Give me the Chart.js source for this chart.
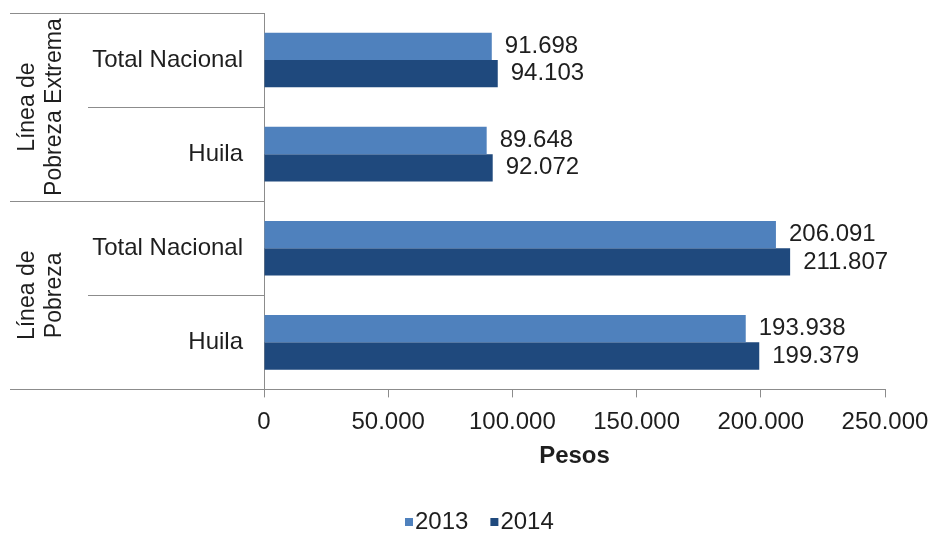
<!DOCTYPE html>
<html>
<head>
<meta charset="utf-8">
<script src="https://cdn.jsdelivr.net/npm/chart.js@4"></script>
<style>
html,body{margin:0;padding:0;background:#fff;}
#wrap{width:931px;height:533px;}
</style>
</head>
<body>
<div id="wrap"><canvas id="c" width="931" height="533"></canvas></div>
<script>
const categories = ['Total Nacional', 'Huila', 'Total Nacional', 'Huila'];
const groupLabels = [['Línea de', 'Pobreza Extrema'], ['Línea de', 'Pobreza']];
const groupSizes = [2, 2];
const seriesNames = ['2013', '2014'];
const values2013 = [91698, 89648, 206091, 193938];
const values2014 = [94103, 92072, 211807, 199379];
const xTicks = [0, 50000, 100000, 150000, 200000, 250000];
const xTitle = 'Pesos';

const colors = ['#4F81BD', '#1F497D'];
const textColor = '#1e1e1e';
const lineColor = '#8c8c8c';
const FONT = '"Liberation Sans", Arial, sans-serif';
const FS = 24;

function fmt(v) {
  return String(v).replace(/\B(?=(\d{3})+(?!\d))/g, '.');
}

const decorPlugin = {
  id: 'decor',
  afterDraw(chart) {
    const ctx = chart.ctx;
    const y = chart.scales.y;
    const area = chart.chartArea;
    const n = categories.length;
    const outerX = 10, innerX = 88;
    ctx.save();
    ctx.strokeStyle = lineColor;
    ctx.lineWidth = 1;
    const bounds = [area.top];
    for (let i = 0; i < n - 1; i++) {
      bounds.push((y.getPixelForValue(i) + y.getPixelForValue(i + 1)) / 2);
    }
    bounds.push(area.bottom);
    const groupStarts = [0];
    let acc = 0;
    groupSizes.forEach(s => { acc += s; groupStarts.push(acc); });
    bounds.forEach((by, idx) => {
      const isGroup = groupStarts.includes(idx);
      const x0 = isGroup ? outerX : innerX;
      ctx.beginPath();
      ctx.moveTo(x0, Math.round(by) + 0.5);
      ctx.lineTo(area.left, Math.round(by) + 0.5);
      ctx.stroke();
    });
    // group labels
    ctx.fillStyle = textColor;
    ctx.font = '23px ' + FONT;
    ctx.textAlign = 'center';
    ctx.textBaseline = 'middle';
    let start = 0;
    groupSizes.forEach((s, gi) => {
      const top = bounds[start];
      const bot = bounds[start + s];
      const cy = (top + bot) / 2;
      const lines = groupLabels[gi];
      const lh = 27;
      const cx = 41;
      ctx.save();
      ctx.translate(cx, cy);
      ctx.rotate(-Math.PI / 2);
      lines.forEach((t, li) => {
        ctx.fillText(t, 0, (li - (lines.length - 1) / 2) * lh);
      });
      ctx.restore();
      start += s;
    });
    // data labels
    ctx.font = FS + 'px ' + FONT;
    ctx.textAlign = 'left';
    ctx.textBaseline = 'middle';
    chart.data.datasets.forEach((ds, di) => {
      const meta = chart.getDatasetMeta(di);
      meta.data.forEach((bar, i) => {
        ctx.fillText(fmt(ds.data[i]), bar.x + 13, bar.y);
      });
    });
    // legend
    let lx = 405;
    const ly = 522;
    chart.data.datasets.forEach((ds) => {
      ctx.fillStyle = ds.backgroundColor;
      ctx.fillRect(lx, ly - 4, 8, 8);
      ctx.fillStyle = textColor;
      ctx.fillText(ds.label, lx + 10, ly);
      lx += 10 + ctx.measureText(ds.label).width + 22;
    });
    ctx.restore();
  }
};

new Chart(document.getElementById('c'), {
  type: 'bar',
  data: {
    labels: categories,
    datasets: [
      { label: seriesNames[0], data: values2013, backgroundColor: colors[0], categoryPercentage: 0.58, barPercentage: 1.0 },
      { label: seriesNames[1], data: values2014, backgroundColor: colors[1], categoryPercentage: 0.58, barPercentage: 1.0 }
    ]
  },
  options: {
    indexAxis: 'y',
    responsive: false,
    animation: false,
    devicePixelRatio: 1,
    layout: { padding: { top: 13, right: 46, bottom: 62, left: 0 } },
    plugins: { legend: { display: false }, tooltip: { enabled: false } },
    scales: {
      x: {
        min: 0, max: 250000,
        afterBuildTicks(scale) { scale.ticks = xTicks.map(v => ({ value: v })); },
        afterFit(scale) { scale.paddingLeft = 0; scale.paddingRight = 0; },
        grid: { drawOnChartArea: false, drawTicks: true, tickLength: 8, color: lineColor },
        border: { display: true, color: lineColor },
        ticks: { color: textColor, font: { family: FONT, size: FS }, padding: 11, maxRotation: 0, autoSkip: false, callback: v => fmt(v) },
        title: { display: true, text: xTitle, color: textColor, font: { family: FONT, size: FS, weight: 'bold' }, padding: { top: -6, bottom: 0 } }
      },
      y: {
        afterFit(scale) { scale.width = 264; scale.paddingTop = 0; scale.paddingBottom = 0; },
        grid: { drawOnChartArea: false, drawTicks: false },
        border: { display: true, color: lineColor },
        ticks: { color: textColor, font: { family: FONT, size: FS }, padding: 21, autoSkip: false }
      }
    }
  },
  plugins: [decorPlugin]
});
</script>
</body>
</html>
